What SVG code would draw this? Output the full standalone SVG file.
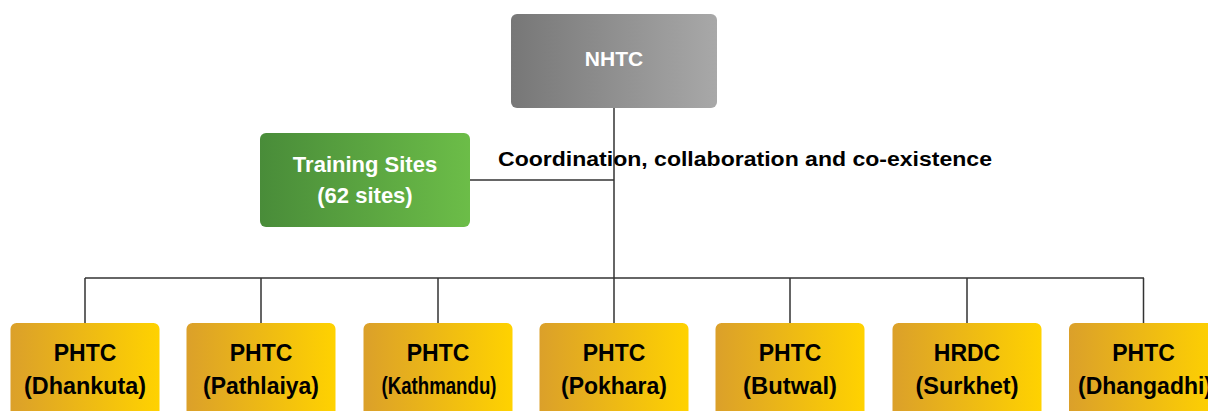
<svg xmlns="http://www.w3.org/2000/svg" width="1208" height="411" viewBox="0 0 1208 411">
  <defs>
    <linearGradient id="gGray" x1="0" y1="0" x2="1" y2="0">
      <stop offset="0" stop-color="#777777"/>
      <stop offset="1" stop-color="#a8a8a8"/>
    </linearGradient>
    <linearGradient id="gGreen" x1="0" y1="0" x2="1" y2="0">
      <stop offset="0" stop-color="#498c39"/>
      <stop offset="1" stop-color="#6cbd48"/>
    </linearGradient>
    <linearGradient id="gGold" x1="0" y1="0" x2="1" y2="0">
      <stop offset="0" stop-color="#dba02a"/>
      <stop offset="1" stop-color="#ffd200"/>
    </linearGradient>
    <style>
      .lbl { font-family: "Liberation Sans", Arial, sans-serif; font-weight: bold; text-anchor: middle; }
      .w { fill: #ffffff; }
      .k { fill: #000000; }
      .box { stroke: none; }
      .wire { stroke: #333333; stroke-width: 1.5; fill: none; }
    </style>
  </defs>
  <rect width="1208" height="411" fill="#ffffff"/>

  <g id="connectors">
    <path class="wire" d="M614 108 V278"/>
    <path class="wire" d="M470 180 H614"/>
    <path class="wire" d="M85 278 H1144"/>
    <path class="wire" d="M85 278 V323 M261 278 V323 M438 278 V323 M614 278 V323 M790 278 V323 M967 278 V323 M1143.5 278 V323"/>
  </g>

  <g id="nhtc">
    <rect class="box" x="511" y="14" width="206" height="94" rx="6" fill="url(#gGray)"/>
    <text class="lbl w" x="614" y="66" font-size="21">NHTC</text>
  </g>

  <g id="training-sites">
    <rect class="box" x="260" y="133" width="210" height="94" rx="6" fill="url(#gGreen)"/>
    <text class="lbl w" x="365" y="172" font-size="22">Training Sites</text>
    <text class="lbl w" x="365" y="203" font-size="22">(62 sites)</text>
  </g>

  <text id="relation-label" class="lbl k" x="498" y="166" font-size="20" style="text-anchor:start" textLength="494" lengthAdjust="spacingAndGlyphs">Coordination, collaboration and co-existence</text>

  <g id="phtc-dhankuta">
    <rect class="box" x="10.5" y="323" width="149" height="100" rx="6" fill="url(#gGold)"/>
    <text class="lbl k" x="85" y="361" font-size="23">PHTC</text>
    <text class="lbl k" x="85" y="394" font-size="23" textLength="122" lengthAdjust="spacingAndGlyphs">(Dhankuta)</text>
  </g>

  <g id="phtc-pathlaiya">
    <rect class="box" x="186.5" y="323" width="149" height="100" rx="6" fill="url(#gGold)"/>
    <text class="lbl k" x="261" y="361" font-size="23">PHTC</text>
    <text class="lbl k" x="261" y="394" font-size="23" textLength="116" lengthAdjust="spacingAndGlyphs">(Pathlaiya)</text>
  </g>

  <g id="phtc-kathmandu">
    <rect class="box" x="363.5" y="323" width="149" height="100" rx="6" fill="url(#gGold)"/>
    <text class="lbl k" x="438" y="361" font-size="23">PHTC</text>
    <text class="lbl k" x="439" y="394" font-size="23" textLength="115" lengthAdjust="spacingAndGlyphs">(Kathmandu)</text>
  </g>

  <g id="phtc-pokhara">
    <rect class="box" x="539.5" y="323" width="149" height="100" rx="6" fill="url(#gGold)"/>
    <text class="lbl k" x="614" y="361" font-size="23">PHTC</text>
    <text class="lbl k" x="614" y="394" font-size="23" textLength="106" lengthAdjust="spacingAndGlyphs">(Pokhara)</text>
  </g>

  <g id="phtc-butwal">
    <rect class="box" x="715.5" y="323" width="149" height="100" rx="6" fill="url(#gGold)"/>
    <text class="lbl k" x="790" y="361" font-size="23">PHTC</text>
    <text class="lbl k" x="790" y="394" font-size="23" textLength="94" lengthAdjust="spacingAndGlyphs">(Butwal)</text>
  </g>

  <g id="hrdc-surkhet">
    <rect class="box" x="892.5" y="323" width="149" height="100" rx="6" fill="url(#gGold)"/>
    <text class="lbl k" x="967" y="361" font-size="23">HRDC</text>
    <text class="lbl k" x="967" y="394" font-size="23" textLength="103" lengthAdjust="spacingAndGlyphs">(Surkhet)</text>
  </g>

  <g id="phtc-dhangadhi">
    <rect class="box" x="1069" y="323" width="149" height="100" rx="6" fill="url(#gGold)"/>
    <text class="lbl k" x="1143.5" y="361" font-size="23">PHTC</text>
    <text class="lbl k" x="1145" y="394" font-size="23" textLength="134" lengthAdjust="spacingAndGlyphs">(Dhangadhi)</text>
  </g>
</svg>
